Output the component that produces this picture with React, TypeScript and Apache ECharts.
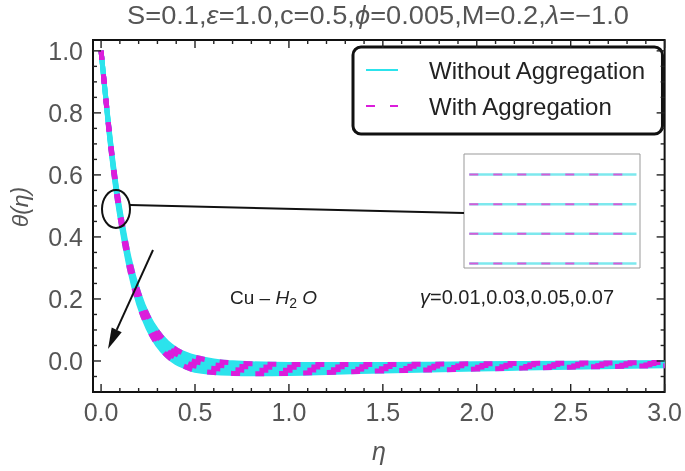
import React, { useEffect, useRef } from "react";
import * as echarts from "echarts";

// ---- data ----
const ETA = [0, 0.025, 0.05, 0.075, 0.1, 0.15, 0.2, 0.25, 0.3, 0.35, 0.4, 0.45, 0.5, 0.6, 0.7, 0.8, 1.0, 1.25, 1.5, 2.0, 2.5, 3.0];
const THETA_G001 = [1, 0.85, 0.71, 0.59, 0.49, 0.33, 0.22, 0.145, 0.095, 0.06, 0.037, 0.022, 0.012, 0.0, -0.006, -0.009, -0.011, -0.011, -0.011, -0.009, -0.007, -0.005];
const THETA_G003 = [1, 0.848, 0.705, 0.583, 0.482, 0.32, 0.208, 0.132, 0.081, 0.046, 0.023, 0.008, -0.002, -0.012, -0.017, -0.019, -0.02, -0.019, -0.018, -0.015, -0.011, -0.008];
const THETA_G005 = [1, 0.846, 0.7, 0.576, 0.474, 0.31, 0.196, 0.119, 0.067, 0.032, 0.009, -0.005, -0.016, -0.024, -0.028, -0.03, -0.03, -0.028, -0.025, -0.02, -0.016, -0.012];
const THETA_G007 = [1, 0.844, 0.695, 0.57, 0.466, 0.3, 0.184, 0.106, 0.053, 0.018, -0.005, -0.019, -0.03, -0.037, -0.04, -0.041, -0.04, -0.036, -0.032, -0.026, -0.02, -0.015];
const CURVES = [THETA_G001, THETA_G003, THETA_G005, THETA_G007];
const X_TICKS = [0, 0.5, 1.0, 1.5, 2.0, 2.5, 3.0];
const Y_TICKS = [0, 0.2, 0.4, 0.6, 0.8, 1.0];
const INSET_LEVELS = [0.82, 0.56, 0.3, 0.04];
const INSET_X = [0.03, 0.98];

const FONT = "'Liberation Sans', Arial, sans-serif";
const CYAN = "#2CE3EC";
const MAGENTA = "#DB1DDB";

function tickList(start: number, end: number, step: number, majors: number[]) {
  const out: number[][] = [];
  const n = Math.round((end - start) / step);
  for (let k = 0; k <= n; k++) {
    const r = Math.round((start + k * step) * 1000) / 1000;
    const isMajor = majors.some((m) => Math.abs(m - r) < 1e-6);
    out.push([r, isMajor ? 8 : 4]);
  }
  return out;
}

export default function App() {
  const ref = useRef<HTMLDivElement>(null);
  useEffect(() => {
    if (!ref.current) return;
    const chart = echarts.init(ref.current, undefined, { renderer: "svg" });
    const xMin = -0.043, xMax = 3.0, yMin = -0.1, yMax = 1.035;
    const G = { left: 93, right: 20, top: 40, bottom: 79 };

    const series: any[] = [];
    CURVES.forEach((c) => {
      series.push({
        type: "line", name: "Without Aggregation", xAxisIndex: 0, yAxisIndex: 0,
        data: ETA.map((x, i) => [x, c[i]]), symbol: "none", smooth: 0.4,
        lineStyle: { color: CYAN, width: 5 }, itemStyle: { color: CYAN }, z: 2,
      });
    });
    CURVES.forEach((c) => {
      series.push({
        type: "line", name: "With Aggregation", xAxisIndex: 0, yAxisIndex: 0,
        data: ETA.map((x, i) => [x, c[i]]), symbol: "none", smooth: 0.4,
        lineStyle: { color: MAGENTA, width: 5, type: [9, 15] }, itemStyle: { color: MAGENTA }, z: 3,
      });
    });
    INSET_LEVELS.forEach((v, k) => {
      series.push({
        type: "line", name: "inset-c" + k, xAxisIndex: 1, yAxisIndex: 1,
        data: INSET_X.map((x) => [x, v]), symbol: "none",
        lineStyle: { color: "#7DE8EE", width: 2.5 }, z: 2,
      });
      series.push({
        type: "line", name: "inset-m" + k, xAxisIndex: 1, yAxisIndex: 1,
        data: INSET_X.map((x) => [x, v]), symbol: "none",
        lineStyle: { color: "#D45CD8", width: 2, type: [9, 15] }, z: 3,
      });
    });

    // arrow geometry
    const ax0 = 153, ay0 = 250, tx = 108, ty = 349;
    const dx = tx - ax0, dy = ty - ay0, L = Math.hypot(dx, dy);
    const ux = dx / L, uy = dy / L, hl = 21, hw = 5.5;
    const bx = tx - hl * ux, by = ty - hl * uy;

    const baseGraphic: any[] = [
      {
        type: "text", x: 378, y: 15, scaleX: 1.09,
        style: {
          text: "S=0.1,{i|ε}=1.0,c=0.5,{i|ϕ}=0.005,M=0.2,{i|λ}=−1.0",
          align: "center", verticalAlign: "middle", fontSize: 25, fill: "#555", fontFamily: FONT,
          rich: { i: { fontStyle: "italic", fontSize: 25, fill: "#555", fontFamily: FONT } },
        },
      },
      {
        type: "text", x: 20, y: 207, rotation: Math.PI / 2,
        style: { text: "θ(η)", align: "center", verticalAlign: "middle", fontSize: 23, fontStyle: "italic", fill: "#555", fontFamily: FONT },
      },
      {
        type: "text", x: 379, y: 451,
        style: { text: "η", align: "center", verticalAlign: "middle", fontSize: 25, fontStyle: "italic", fill: "#555", fontFamily: FONT },
      },
      {
        type: "text", x: 230, y: 297,
        style: {
          text: "Cu – {i|H}{s|2} {i|O}", align: "left", verticalAlign: "middle", fontSize: 19, fill: "#222", fontFamily: FONT,
          rich: {
            i: { fontStyle: "italic", fontSize: 19, fill: "#222", fontFamily: FONT },
            s: { fontSize: 14, fill: "#222", fontFamily: FONT, padding: [11, 0, 0, 0] },
          },
        },
      },
      {
        type: "text", x: 420, y: 297,
        style: {
          text: "{i|γ}=0.01,0.03,0.05,0.07", align: "left", verticalAlign: "middle", fontSize: 20, fill: "#222", fontFamily: FONT,
          rich: { i: { fontStyle: "italic", fontSize: 20, fill: "#222", fontFamily: FONT } },
        },
      },
      { type: "ellipse", shape: { cx: 116, cy: 209, rx: 14, ry: 19 }, style: { fill: "none", stroke: "#111", lineWidth: 2 }, z: 10 },
      { type: "line", shape: { x1: 130, y1: 205, x2: 464, y2: 213 }, style: { stroke: "#111", lineWidth: 2 }, z: 10 },
      { type: "line", shape: { x1: ax0, y1: ay0, x2: bx, y2: by }, style: { stroke: "#111", lineWidth: 2 }, z: 10 },
      {
        type: "polygon", z: 10,
        shape: { points: [[tx, ty], [bx + hw * -uy, by + hw * ux], [bx - hw * -uy, by - hw * ux]] },
        style: { fill: "#111" },
      },
    ];

    chart.setOption({
      animation: false,
      grid: [
        { ...G, show: true, borderColor: "#111", borderWidth: 2, backgroundColor: "transparent" },
        { left: 464, top: 154, width: 176, height: 114, show: true, borderColor: "#999", borderWidth: 1, backgroundColor: "#fff" },
      ],
      xAxis: [
        {
          type: "value", gridIndex: 0, position: "bottom", min: xMin, max: xMax,
          axisLine: { show: false, onZero: false }, splitLine: { show: false }, axisTick: { show: false },
          axisLabel: { show: true, customValues: X_TICKS, formatter: (v: number) => v.toFixed(1), fontSize: 25, color: "#555", fontFamily: FONT, margin: 7 },
        },
        { type: "value", gridIndex: 1, min: 0, max: 1, show: false },
      ],
      yAxis: [
        {
          type: "value", gridIndex: 0, position: "left", min: yMin, max: yMax,
          axisLine: { show: false, onZero: false }, splitLine: { show: false }, axisTick: { show: false },
          axisLabel: { show: true, customValues: Y_TICKS, formatter: (v: number) => v.toFixed(1), fontSize: 25, color: "#555", fontFamily: FONT, margin: 10 },
        },
        { type: "value", gridIndex: 1, min: 0, max: 1, show: false },
      ],
      legend: {
        orient: "vertical", left: 353, top: 47,
        data: ["Without Aggregation", "With Aggregation"],
        itemWidth: 32, itemHeight: 14, itemGap: 6,
        padding: [8, 16, 13, 12],
        borderColor: "#111", borderWidth: 3, borderRadius: 8, backgroundColor: "#fff",
        itemStyle: { opacity: 0 },
        textStyle: { fontSize: 24, color: "#222", fontFamily: FONT, padding: [0, 0, 0, 26], lineHeight: 30 },
        selectedMode: false,
      },
      series,
      graphic: baseGraphic,
    });

    // frame ticks on all four sides, placed through the chart's own scales
    const W = 685 - G.left - G.right, H = 471 - G.top - G.bottom;
    const toPx = (x: number, y: number): number[] => {
      const p = chart.convertToPixel({ gridIndex: 0 }, [x, y]) as any;
      if (p && isFinite(p[0]) && isFinite(p[1])) return p;
      return [G.left + ((x - xMin) / (xMax - xMin)) * W, G.top + ((yMax - y) / (yMax - yMin)) * H];
    };
    const tickEls: any[] = [];
    const st = { stroke: "#222", lineWidth: 1.4 };
    tickList(0, 3.0, 0.1, X_TICKS).forEach(([v, len]) => {
      const b = toPx(v, yMin), t = toPx(v, yMax);
      tickEls.push({ type: "line", z: 20, shape: { x1: b[0], y1: b[1], x2: b[0], y2: b[1] - len }, style: st });
      tickEls.push({ type: "line", z: 20, shape: { x1: t[0], y1: t[1], x2: t[0], y2: t[1] + len }, style: st });
    });
    tickList(-0.05, 1.0, 0.05, Y_TICKS).forEach(([v, len]) => {
      const l = toPx(xMin, v), r = toPx(xMax, v);
      tickEls.push({ type: "line", z: 20, shape: { x1: l[0], y1: l[1], x2: l[0] + len, y2: l[1] }, style: st });
      tickEls.push({ type: "line", z: 20, shape: { x1: r[0], y1: r[1], x2: r[0] - len, y2: r[1] }, style: st });
    });
    chart.setOption({ graphic: [...baseGraphic, ...tickEls] });

    return () => chart.dispose();
  }, []);
  return <div ref={ref} style={{ position: "fixed", left: 0, top: 0, width: 685, height: 471 }} />;
}
